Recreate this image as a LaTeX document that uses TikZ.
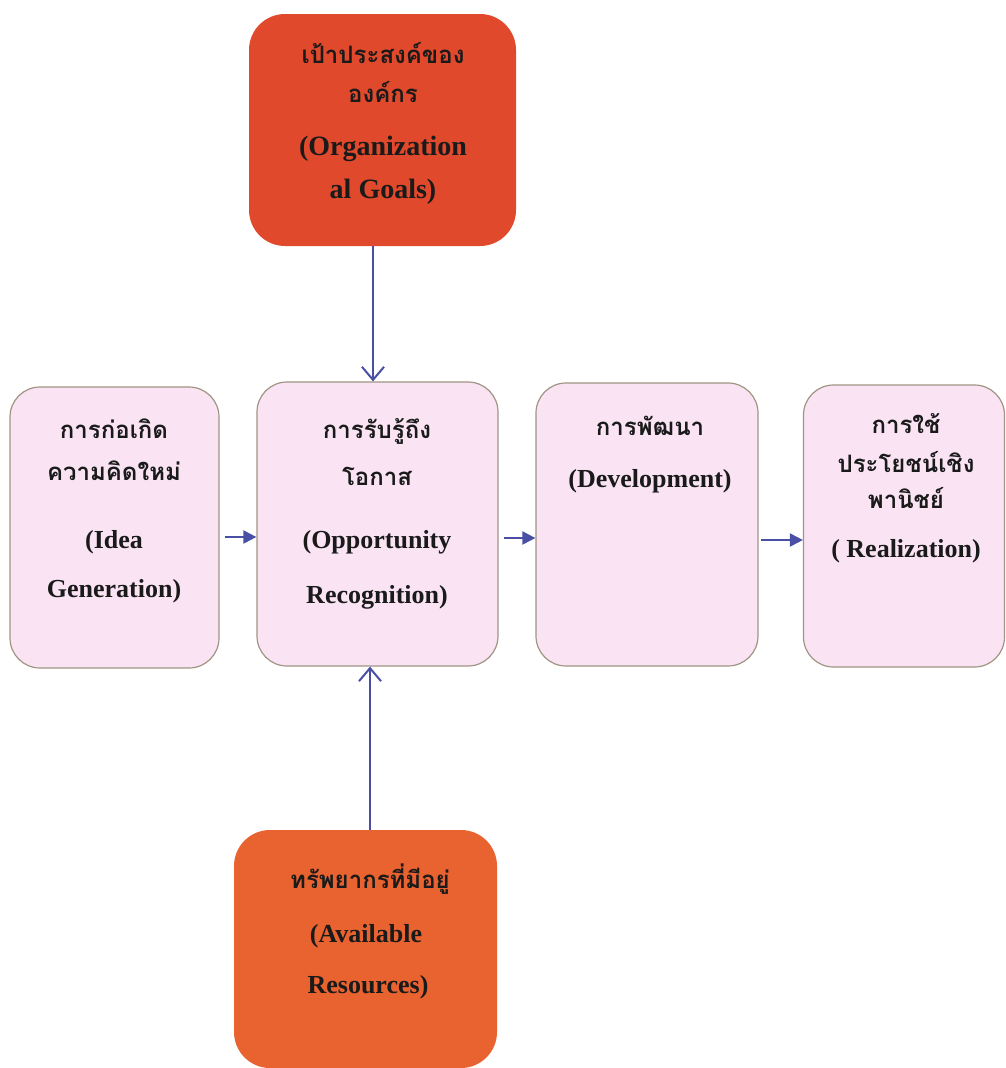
\documentclass[tikz,border=0pt]{standalone}
\usepackage{fontspec}
\setmainfont{Liberation Serif}
\newfontfamily\thaifont[Script=Thai]{Loma}
\usetikzlibrary{arrows.meta}

\definecolor{goalred}{HTML}{E0492B}
\definecolor{resorange}{HTML}{E8632F}
\definecolor{stagepink}{HTML}{FAE4F4}
\definecolor{stageedge}{HTML}{A09483}
\definecolor{flowblue}{HTML}{4A4FA6}
\definecolor{ink}{HTML}{1A1A1A}

\tikzset{
  stagebox/.style={draw=stageedge, line width=1.2pt, fill=stagepink, rounded corners=30pt, inner sep=0pt},
  inputbox/.style={rounded corners=36pt, inner sep=0pt, draw=none},
  th/.style={anchor=base, text=ink, font=\thaifont\bfseries\fontsize{24}{28}\selectfont, inner sep=0pt},
  en/.style={anchor=base, text=ink, font=\bfseries\fontsize{26}{30}\selectfont, inner sep=0pt},
  enbig/.style={anchor=base, text=ink, font=\bfseries\fontsize{28}{32}\selectfont, inner sep=0pt},
  feed/.style={draw=flowblue, line width=2pt, -{Straight Barb[length=13pt,width=22pt,line width=2pt]}},
  flow/.style={draw=flowblue, line width=2pt, -{Triangle[length=13pt,width=13pt]}},
}

\begin{document}
\begin{tikzpicture}[x=1pt, y=-1pt]
  \useasboundingbox (0,0) rectangle (1006,1068);

  % input boxes
  \node[inputbox, fill=goalred, minimum width=267pt, minimum height=232pt] (goals) at (382.5,130) {};
  \node[inputbox, fill=resorange, minimum width=263pt, minimum height=238pt] (res) at (365.5,949) {};

  % stage boxes
  \node[stagebox, minimum width=209pt, minimum height=281pt] (idea) at (114.5,527.5) {};
  \node[stagebox, minimum width=241pt, minimum height=284pt] (opp)  at (377.5,524) {};
  \node[stagebox, minimum width=222pt, minimum height=283pt] (dev)  at (647,524.5) {};
  \node[stagebox, minimum width=201pt, minimum height=282pt] (real) at (904,526) {};

  % labels
  \node[th]    (goals-1) at (383,63)  {เป้าประสงค์ของ};
  \node[th]    (goals-2) at (383,102) {องค์กร};
  \node[enbig] (goals-3) at (383,155) {(Organization};
  \node[enbig] (goals-4) at (383,198) {al Goals)};

  \node[th] (idea-1) at (114,438) {การก่อเกิด};
  \node[th] (idea-2) at (114,480) {ความคิดใหม่};
  \node[en] (idea-3) at (114,548) {(Idea};
  \node[en] (idea-4) at (114,597) {Generation)};

  \node[th] (opp-1) at (377,438) {การรับรู้ถึง};
  \node[th] (opp-2) at (377,485) {โอกาส};
  \node[en] (opp-3) at (377,548) {(Opportunity};
  \node[en] (opp-4) at (377,603) {Recognition)};

  \node[th] (dev-1) at (650,435) {การพัฒนา};
  \node[en] (dev-2) at (650,487) {(Development)};

  \node[th] (real-1) at (906,433) {การใช้};
  \node[th] (real-2) at (906,472) {ประโยชน์เชิง};
  \node[th] (real-3) at (906,508) {พานิชย์};
  \node[en] (real-4) at (906,557) {( Realization)};

  \node[th] (res-1) at (370,888) {ทรัพยากรที่มีอยู่};
  \node[en] (res-2) at (366,942) {(Available};
  \node[en] (res-3) at (368,993) {Resources)};

  % connectors
  \draw[feed] ([xshift=-9.5pt]goals.south) -- ([xshift=-4.5pt]opp.north);
  \draw[feed] ([xshift=4.5pt]res.north) -- ([xshift=-7.5pt]opp.south);
  \draw[flow] ([xshift=5pt,yshift=-9.5pt]idea.east) -- ([yshift=-13pt]opp.west);
  \draw[flow] ([xshift=5pt,yshift=-14pt]opp.east) -- ([yshift=-13.5pt]dev.west);
  \draw[flow] ([xshift=2pt,yshift=-15.5pt]dev.east) -- ([yshift=-14pt]real.west);
\end{tikzpicture}
\end{document}
